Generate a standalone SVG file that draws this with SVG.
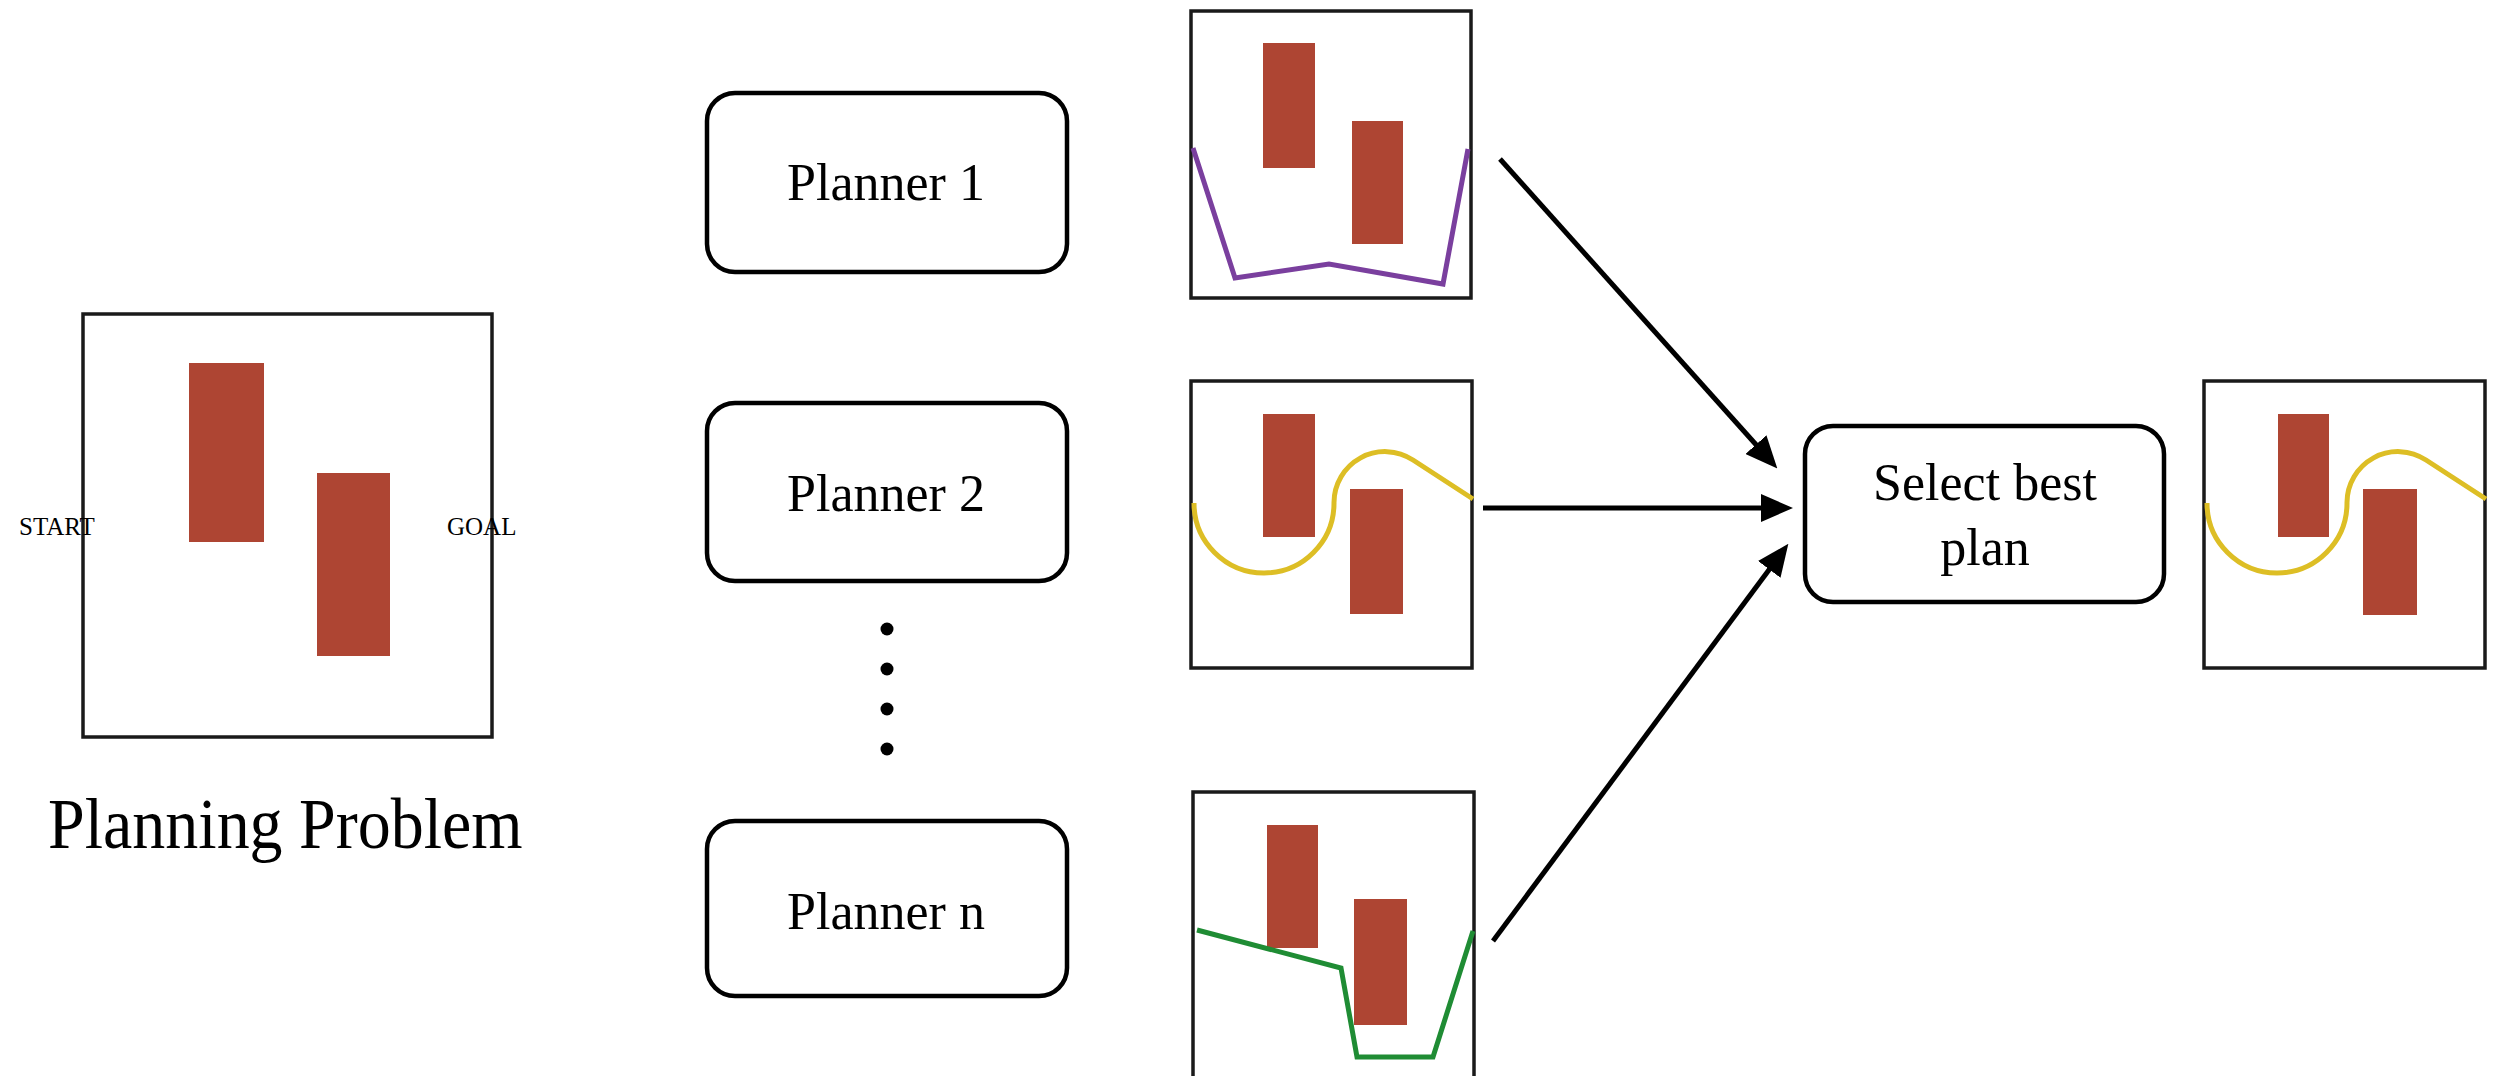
<svg xmlns="http://www.w3.org/2000/svg" width="2501" height="1076" viewBox="0 0 2501 1076">
  <style>
    .frame { fill: #ffffff; stroke: #1a1a1a; stroke-width: 3.5; }
    .obs { fill: #AE4533; }
    .node { fill: #ffffff; stroke: #000000; stroke-width: 4.5; }
    .txt { font-family: "Liberation Serif", "Times New Roman", serif; fill: #000000; }
    .lbl { font-size: 52px; text-anchor: middle; }
    .small { font-size: 25px; }
    .path { fill: none; stroke-width: 5; stroke-linejoin: miter; }
    .edge { fill: none; stroke: #000000; stroke-width: 5; marker-end: url(#arrow); }
    .dot { fill: #000000; }
  </style>
  <defs>
    <marker id="arrow" viewBox="0 0 32 28" markerWidth="32" markerHeight="28" markerUnits="userSpaceOnUse" refX="18" refY="14" orient="auto">
      <path d="M0,0 L32,14 L0,28 z" fill="#000000"/>
    </marker>
  </defs>

  <!-- Planning problem -->
  <g id="problem">
    <rect class="frame" x="83" y="314" width="409" height="423"/>
    <rect class="obs" x="189" y="363" width="75" height="179"/>
    <rect class="obs" x="317" y="473" width="73" height="183"/>
    <text class="txt small" x="19" y="535">START</text>
    <text class="txt small" x="447" y="535">GOAL</text>
    <text class="txt" font-size="66" transform="translate(48,848) scale(1,1.1)">Planning Problem</text>
  </g>

  <!-- Planner nodes -->
  <g id="planner1">
    <rect class="node" x="707" y="93" width="360" height="179" rx="28" ry="28"/>
    <text class="txt lbl" x="886" y="200">Planner 1</text>
  </g>
  <g id="planner2">
    <rect class="node" x="707" y="403" width="360" height="178" rx="28" ry="28"/>
    <text class="txt lbl" x="886" y="511">Planner 2</text>
  </g>
  <g id="dots">
    <circle class="dot" cx="887" cy="629" r="6.5"/>
    <circle class="dot" cx="887" cy="669" r="6.5"/>
    <circle class="dot" cx="887" cy="709" r="6.5"/>
    <circle class="dot" cx="887" cy="749" r="6.5"/>
  </g>
  <g id="plannern">
    <rect class="node" x="707" y="821" width="360" height="175" rx="28" ry="28"/>
    <text class="txt lbl" x="886" y="929">Planner n</text>
  </g>

  <!-- Plan results -->
  <g id="plan1">
    <rect class="frame" x="1191" y="11" width="280" height="287"/>
    <rect class="obs" x="1263" y="43" width="52" height="125"/>
    <rect class="obs" x="1352" y="121" width="51" height="123"/>
    <polyline class="path" stroke="#7A3F9E" points="1193,148 1235,278 1329,264 1443,284 1468,149"/>
  </g>
  <g id="plan2">
    <rect class="frame" x="1191" y="381" width="281" height="287"/>
    <rect class="obs" x="1263" y="414" width="52" height="123"/>
    <rect class="obs" x="1350" y="489" width="53" height="125"/>
    <path class="path" stroke="#DDBE25" d="M1194,503 A70,70 0 0 0 1334,503 A51,51 0 0 1 1413,460 L1473,499"/>
  </g>
  <g id="plann">
    <rect class="frame" x="1193" y="792" width="281" height="300"/>
    <rect class="obs" x="1267" y="825" width="51" height="123"/>
    <rect class="obs" x="1354" y="899" width="53" height="126"/>
    <polyline class="path" stroke="#1F8C34" stroke-width="6" points="1197,930 1341,968 1357,1057 1433,1057 1473,931"/>
  </g>

  <!-- Select best plan -->
  <g id="select">
    <rect class="node" x="1805" y="426" width="359" height="176" rx="28" ry="28"/>
    <text class="txt lbl" x="1985" y="500">Select best</text>
    <text class="txt lbl" x="1985" y="565">plan</text>
  </g>

  <!-- Best plan -->
  <g id="result">
    <rect class="frame" x="2204" y="381" width="281" height="287"/>
    <rect class="obs" x="2278" y="414" width="51" height="123"/>
    <rect class="obs" x="2363" y="489" width="54" height="126"/>
    <path class="path" stroke="#DDBE25" d="M2207,503 A70,70 0 0 0 2347,503 A51,51 0 0 1 2426,460 L2486,499"/>
  </g>

  <!-- Connectors -->
  <g id="connectors">
    <line class="edge" x1="1500" y1="159" x2="1768" y2="458"/>
    <line class="edge" x1="1483" y1="508" x2="1779" y2="508"/>
    <line class="edge" x1="1493" y1="941" x2="1780" y2="555"/>
  </g>
</svg>
